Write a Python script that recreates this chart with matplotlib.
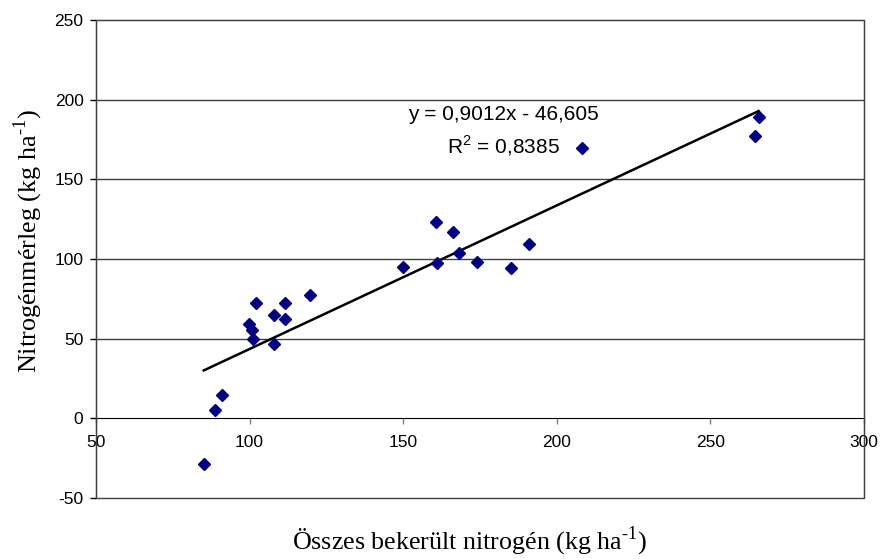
import numpy as np
import matplotlib
matplotlib.use('Agg')
import matplotlib.pyplot as plt
from matplotlib.patches import Rectangle

plt.rcParams['mathtext.fontset'] = 'custom'
plt.rcParams['mathtext.rm'] = 'Liberation Serif'
plt.rcParams['mathtext.sf'] = 'Liberation Sans'
plt.rcParams['font.family'] = 'Liberation Sans'
plt.rcParams['axes.unicode_minus'] = False

# adatok (leolvasva)
osszes_n = [85.1, 88.8, 91.0, 99.7, 100.8, 101.2, 102.1, 107.9, 107.9, 111.5,
            111.6, 119.6, 150.0, 160.6, 166.3, 160.9, 168.3, 174.0, 185.1, 191.1,
            208.1, 264.6, 265.7]
n_merleg = [-28.5, 5.0, 14.4, 59.2, 55.4, 49.8, 72.4, 64.8, 46.8, 62.5,
            72.6, 77.4, 95.0, 123.0, 116.8, 97.3, 103.6, 98.3, 94.5, 109.4,
            169.5, 177.0, 189.0]
meredekseg = 0.9012
tengelymetszet = -46.605
r2 = 0.8385
x_ticks = [50, 100, 150, 200, 250, 300]
y_ticks = [-50, 0, 50, 100, 150, 200, 250]

W, H = 882, 559
fig = plt.figure(figsize=(W / 100, H / 100), dpi=100)
ax = fig.add_axes([96 / W, 1 - 498 / H, 768 / W, 478 / H])

x = np.array(osszes_n)
y = np.array(n_merleg)

for g in [50, 100, 150, 200]:
    ax.axhline(g, color='#404040', lw=1.0, zorder=1)

xl = np.array([x.min(), x.max()])
ax.plot(xl, meredekseg * xl + tengelymetszet, color='black', lw=1.8, zorder=3)
ax.plot(x, y, 'D', color='#000080', ms=6, mec='#000080', zorder=4)

ax.spines['bottom'].set_position(('data', 0))
ax.spines['bottom'].set_color('black')
ax.spines['top'].set_color('#404040')
ax.spines['right'].set_color('#404040')
ax.add_patch(Rectangle((0, 0), 1, 1, transform=ax.transAxes, fill=False,
                       edgecolor='#404040', lw=1.0, zorder=5, clip_on=False))

ax.set_xlim(50, 300)
ax.set_ylim(-50, 250)
ax.set_xticks(x_ticks)
ax.set_yticks(y_ticks)
ax.tick_params(axis='x', direction='out', length=4, width=1, color='#808080',
               pad=8, labelsize=12.5)
ax.tick_params(axis='y', direction='out', length=4, width=1, color='black',
               pad=5, labelsize=12.5)

fig.text(503 / W, 1 - 115 / H, 'y = 0,9012x - 46,605', ha='center', va='center',
         fontsize=15)
fig.text(503 / W, 1 - 146 / H, 'R$^{\\mathsf{2}}$ = 0,8385', ha='center', va='center',
         fontsize=15)

fig.text(470 / W, 1 - 541 / H, 'Összes bekerült nitrogén (kg ha$^{\\text{-1}}$)',
         ha='center', va='center', family='Liberation Serif', fontsize=18.7)
fig.text(28 / W, 1 - 241 / H, 'Nitrogénmérleg (kg ha$^{\\text{-1}}$)',
         ha='center', va='center', rotation=90, family='Liberation Serif', fontsize=18.8)

fig.savefig('out.png', dpi=100)
